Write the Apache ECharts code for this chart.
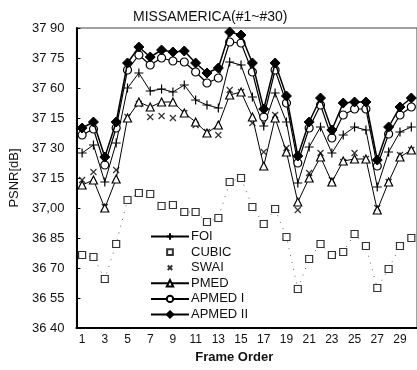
<!DOCTYPE html>
<html>
<head>
<meta charset="utf-8">
<script src="https://cdn.jsdelivr.net/npm/echarts@6/dist/echarts.min.js"></script>
<style>html,body{margin:0;padding:0;background:#fff;}#c{width:417px;height:370px;}</style>
</head>
<body>
<div id="c"></div>
<script>
const frames = ['1','2','3','4','5','6','7','8','9','10','11','12','13','14','15','16','17','18','19','20','21','22','23','24','25','26','27','28','29','30'];
const yTickLabels = ['36 40','36 55','36 70','36 85','37,00','37 15','37 30','37 15','37 60','37 75','37 90'];
const foi = [37.275,37.315,37.13,37.325,37.60,37.675,37.585,37.595,37.58,37.615,37.54,37.515,37.50,37.73,37.715,37.555,37.41,37.575,37.43,37.125,37.305,37.405,37.275,37.365,37.405,37.39,37.105,37.28,37.38,37.405];
const cubic = [36.765,36.755,36.645,36.82,37.04,37.075,37.07,37.01,37.015,36.98,36.98,36.93,36.95,37.13,37.15,37.005,36.92,36.995,36.855,36.595,36.745,36.82,36.765,36.78,36.87,36.81,36.60,36.695,36.81,36.85];
const swai = [37.14,37.18,37.005,37.19,37.455,37.52,37.455,37.46,37.45,37.475,37.415,37.38,37.365,37.59,37.58,37.425,37.28,37.465,37.30,36.99,37.175,37.275,37.14,37.23,37.275,37.245,37.00,37.13,37.265,37.29];
const pmed = [37.115,37.14,37.00,37.145,37.45,37.53,37.505,37.53,37.53,37.475,37.43,37.375,37.415,37.565,37.58,37.455,37.21,37.45,37.28,37.03,37.15,37.255,37.13,37.235,37.245,37.245,36.99,37.13,37.255,37.29];
const apmed1 = [37.365,37.395,37.215,37.40,37.69,37.765,37.715,37.75,37.735,37.73,37.68,37.625,37.65,37.83,37.825,37.68,37.455,37.69,37.525,37.225,37.40,37.515,37.35,37.465,37.495,37.495,37.21,37.37,37.465,37.505];
const apmed2 = [37.40,37.43,37.255,37.43,37.725,37.805,37.755,37.79,37.78,37.785,37.725,37.675,37.70,37.88,37.865,37.725,37.495,37.725,37.56,37.26,37.43,37.55,37.39,37.525,37.53,37.53,37.24,37.405,37.505,37.55];

const FONT = '"Liberation Sans", Arial, sans-serif';
const PLUS = 'path://M0,5L10,5M5,0L5,10';
const CROSS = 'path://M0,0L10,10M10,0L0,10';
const CROSS_LEGEND = 'path://M-4,-4M14,14M0,0L10,10M10,0L0,10';
const SQUARE_LEGEND = 'path://M-2,-2M12,12M0,0L10,0L10,10L0,10Z';

const chart = echarts.init(document.getElementById('c'), null, {renderer: 'canvas'});
chart.setOption({
  animation: false,
  backgroundColor: '#fff',
  title: {
    text: 'MISSAMERICA(#1~#30)',
    left: 128, top: 5,
    textStyle: {fontFamily: FONT, fontSize: 14, fontWeight: 'normal', color: '#111'}
  },
  grid: {left: 74, top: 28, width: 351.4, height: 300, show: true, borderColor: '#444', borderWidth: 1},
  legend: {
    data: [
      {name: 'FOI'},
      {name: 'CUBIC', icon: SQUARE_LEGEND},
      {name: 'SWAI', icon: CROSS_LEGEND},
      {name: 'PMED'},
      {name: 'APMED I'},
      {name: 'APMED II'}
    ],
    orient: 'vertical', left: 150, top: 230, padding: 0,
    itemWidth: 38, itemHeight: 8, itemGap: 2.6,
    textStyle: {fontFamily: FONT, fontSize: 13, color: '#111', padding: [0,0,0,-3]}
  },
  xAxis: {
    type: 'category', data: frames, boundaryGap: true,
    name: 'Frame Order', nameLocation: 'middle', nameGap: 16,
    nameTextStyle: {fontFamily: FONT, fontSize: 13, fontWeight: 'bold', color: '#111', padding: [0,25,0,0]},
    axisLine: {lineStyle: {color: '#000', width: 2}},
    axisTick: {show: false},
    axisLabel: {interval: 1, margin: 6, fontFamily: FONT, fontSize: 12, color: '#111'},
    splitLine: {show: false}
  },
  yAxis: {
    type: 'value', min: 36.4, max: 37.9, interval: 0.15,
    name: 'PSNR[dB]', nameLocation: 'middle', nameGap: 52,
    nameTextStyle: {fontFamily: FONT, fontSize: 13, color: '#111'},
    axisLine: {show: true, lineStyle: {color: '#000', width: 2}},
    axisTick: {show: true, inside: true, length: 4, lineStyle: {color: '#000'}},
    axisLabel: {margin: 12, fontFamily: FONT, fontSize: 13, color: '#111',
      formatter: function (v) { return yTickLabels[Math.round((v - 36.4) / 0.15)]; }},
    splitLine: {show: false}
  },
  series: [
    {name: 'CUBIC-dots', type: 'line', data: cubic, symbol: 'none', silent: true,
     lineStyle: {color: '#666', width: 1, type: [1, 6]}, z: 1},
    {name: 'CUBIC', type: 'scatter', data: cubic, symbol: 'rect', symbolSize: 7,
     itemStyle: {color: '#fff', borderColor: '#000', borderWidth: 1.2}, z: 2},
    {name: 'SWAI', type: 'scatter', data: swai, symbol: CROSS, symbolSize: 6,
     itemStyle: {color: 'none', borderColor: '#000', borderWidth: 1.2}, z: 3},
    {name: 'FOI', type: 'line', data: foi, symbol: PLUS, symbolSize: 9, showAllSymbol: true,
     lineStyle: {color: '#000', width: 1}, itemStyle: {color: 'none', borderColor: '#000', borderWidth: 1.2}, z: 4},
    {name: 'PMED', type: 'line', data: pmed, symbol: 'triangle', symbolSize: 8, showAllSymbol: true,
     lineStyle: {color: '#000', width: 1}, itemStyle: {color: '#fff', borderColor: '#000', borderWidth: 1.2}, z: 5},
    {name: 'APMED I', type: 'line', data: apmed1, symbol: 'circle', symbolSize: 8, showAllSymbol: true,
     lineStyle: {color: '#000', width: 1.2}, itemStyle: {color: '#fff', borderColor: '#000', borderWidth: 1.2}, z: 6},
    {name: 'APMED II', type: 'line', data: apmed2, symbol: 'diamond', symbolSize: 10, showAllSymbol: true,
     lineStyle: {color: '#000', width: 1.5}, itemStyle: {color: '#000', borderColor: '#000', borderWidth: 1}, z: 7}
  ]
});
</script>
</body>
</html>
